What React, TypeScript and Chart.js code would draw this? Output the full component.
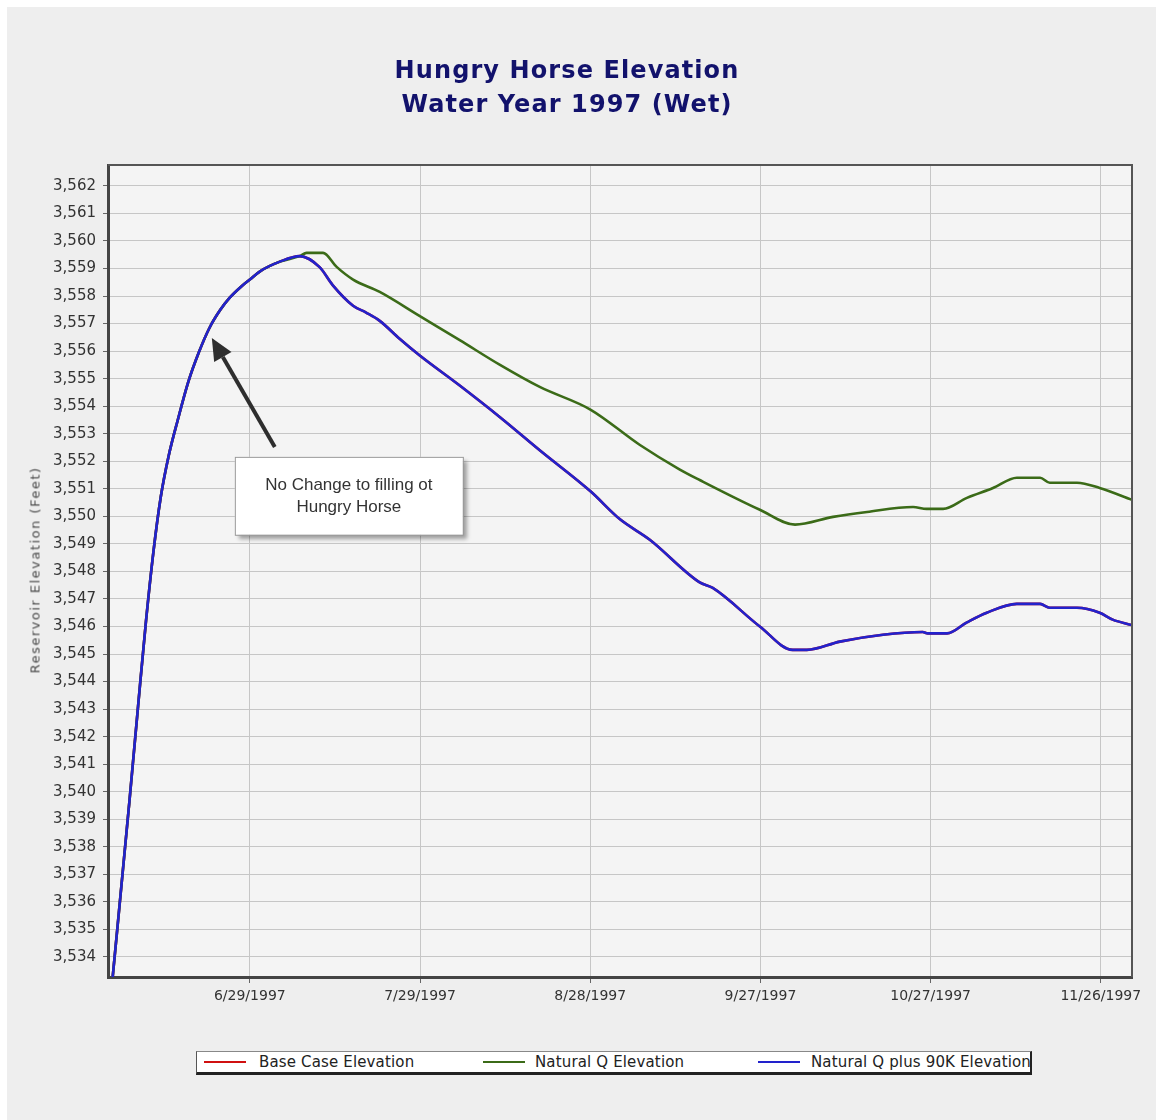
import { useEffect, useRef } from 'react';
import { Chart, registerables } from 'chart.js';

Chart.register(...registerables);

// x values are days counted from 6/29/1997
const tickDays = [0, 30, 60, 90, 120, 150];
const tickLabels = ['6/29/1997', '7/29/1997', '8/28/1997', '9/27/1997', '10/27/1997', '11/26/1997'];
const yTickValues = [
  3534, 3535, 3536, 3537, 3538, 3539, 3540, 3541, 3542, 3543, 3544, 3545, 3546, 3547,
  3548, 3549, 3550, 3551, 3552, 3553, 3554, 3555, 3556, 3557, 3558, 3559, 3560, 3561, 3562,
];

// Natural Q plus 90K Elevation (blue)
const plus90kDays = [
  -24.3, -21.2, -19.7, -18.3, -17.0, -15.7, -14.3, -12.7, -10.9, -9.0, -7.1, -5.2, -3.5, -1.5, 0, 1.8,
  5.3, 8.8, 12.3, 14.6, 18.2, 20.5, 22.9, 26.4, 29.9, 37, 44.1, 51.1, 60.1, 65.2, 70.5, 79.3, 81.6,
  89.9, 95.7, 98.2, 104, 111.6, 118.6, 119.5, 122.9, 126.4, 129.9, 135.2, 139.3, 141, 145.8, 149.8,
  152.1, 155.5,
];
const plus90kElev = [
  3533.0, 3539.7, 3543.1, 3546.2, 3548.7, 3550.7, 3552.2, 3553.5, 3554.85, 3555.95, 3556.85, 3557.5,
  3557.95, 3558.35, 3558.6, 3558.9, 3559.25, 3559.45,
  3559.05, 3558.4, 3557.65, 3557.4, 3557.1, 3556.45, 3555.85, 3554.75, 3553.6, 3552.4, 3550.9,
  3549.9, 3549.15, 3547.6, 3547.4, 3546.0, 3545.15, 3545.15, 3545.45, 3545.7, 3545.8, 3545.75,
  3545.75, 3546.15, 3546.5, 3546.82, 3546.82, 3546.68, 3546.68, 3546.5, 3546.25, 3546.05,
];

// Natural Q Elevation (green)
const naturalDays = [
  -24.3, -21.2, -19.7, -18.3, -17.0, -15.7, -14.3, -12.7, -10.9, -9.0, -7.1, -5.2, -3.5, -1.5, 0, 1.8,
  5.3, 8.8, 10.0, 12.9, 15.3, 18.2, 22.9, 29.9, 37, 44.1, 51.1, 60.1, 68.7, 75.8, 79.3, 89.9, 96.1,
  102.8, 108.8, 116.9, 119.3, 122.2, 126.4, 131, 135.2, 139.3, 141, 145.8, 149.8, 155.5,
];
const naturalElev = [
  3533.0, 3539.7, 3543.1, 3546.2, 3548.7, 3550.7, 3552.2, 3553.5, 3554.85, 3555.95, 3556.85, 3557.5,
  3557.95, 3558.35, 3558.6, 3558.9, 3559.25, 3559.45,
  3559.57, 3559.57, 3559.06, 3558.6, 3558.15, 3557.28, 3556.4, 3555.5, 3554.7, 3553.87, 3552.6,
  3551.7, 3551.32, 3550.24, 3549.7, 3549.98, 3550.16, 3550.34, 3550.27, 3550.27, 3550.67, 3551.03,
  3551.4, 3551.4, 3551.22, 3551.22, 3551.03, 3550.6,
];

// Base Case Elevation (red, hidden beneath the other lines)
const baseDays = plus90kDays;
const baseElev = plus90kElev;

const seriesNames = ['Base Case Elevation', 'Natural Q Elevation', 'Natural Q plus 90K Elevation'];
const seriesColors = ['#d01010', '#3b6b18', '#2222cc'];
const yAxisTitle = 'Reservoir Elevation (Feet)';
const titleLines = ['Hungry Horse Elevation', 'Water Year 1997 (Wet)'];

const annotationLines = ['No Change to filling ot', 'Hungry Horse'];
const annotationArrow = { tipX: -6.7, tipY: 3556.48, tailX: 4.4, tailY: 3552.52 };
const annotationBox = { x0: -2.64, x1: 37.55, y0: 3552.16, y1: 3549.33 };

const toPoints = (xs: number[], ys: number[]) => xs.map((x, i) => ({ x, y: ys[i] }));

const framePlugin = {
  id: 'framePlugin',
  beforeDraw(chart: any) {
    const { ctx, chartArea } = chart;
    ctx.save();
    ctx.fillStyle = '#f4f4f4';
    ctx.fillRect(chartArea.left, chartArea.top, chartArea.right - chartArea.left, chartArea.bottom - chartArea.top);
    ctx.restore();
  },
  afterDraw(chart: any) {
    const { ctx, chartArea, scales } = chart;
    const xs = scales.x;
    const ys = scales.y;
    ctx.save();
    ctx.strokeStyle = '#555';
    ctx.lineWidth = 2;
    ctx.beginPath();
    ctx.moveTo(chartArea.left, chartArea.top);
    ctx.lineTo(chartArea.right, chartArea.top);
    ctx.lineTo(chartArea.right, chartArea.bottom);
    ctx.stroke();

    // annotation arrow
    const tx = xs.getPixelForValue(annotationArrow.tipX);
    const ty = ys.getPixelForValue(annotationArrow.tipY);
    const sx = xs.getPixelForValue(annotationArrow.tailX);
    const sy = ys.getPixelForValue(annotationArrow.tailY);
    const ang = Math.atan2(ty - sy, tx - sx);
    const headLen = 22;
    const headHalf = 10;
    const bx = tx - headLen * Math.cos(ang);
    const by = ty - headLen * Math.sin(ang);
    ctx.strokeStyle = '#2e2e2e';
    ctx.fillStyle = '#2e2e2e';
    ctx.lineWidth = 4;
    ctx.beginPath();
    ctx.moveTo(sx, sy);
    ctx.lineTo(bx, by);
    ctx.stroke();
    ctx.beginPath();
    ctx.moveTo(tx, ty);
    ctx.lineTo(bx + headHalf * Math.sin(ang), by - headHalf * Math.cos(ang));
    ctx.lineTo(bx - headHalf * Math.sin(ang), by + headHalf * Math.cos(ang));
    ctx.closePath();
    ctx.fill();

    // annotation box
    const x0 = xs.getPixelForValue(annotationBox.x0);
    const x1 = xs.getPixelForValue(annotationBox.x1);
    const y0 = ys.getPixelForValue(annotationBox.y0);
    const y1 = ys.getPixelForValue(annotationBox.y1);
    ctx.shadowColor = 'rgba(0,0,0,0.35)';
    ctx.shadowBlur = 4;
    ctx.shadowOffsetX = 4;
    ctx.shadowOffsetY = 4;
    ctx.fillStyle = '#ffffff';
    ctx.fillRect(x0, y0, x1 - x0, y1 - y0);
    ctx.shadowColor = 'transparent';
    ctx.strokeStyle = '#9a9a9a';
    ctx.lineWidth = 1;
    ctx.strokeRect(x0 + 0.5, y0 + 0.5, x1 - x0, y1 - y0);
    ctx.fillStyle = '#333';
    ctx.font = '17px "Liberation Sans", Arial, sans-serif';
    ctx.textAlign = 'center';
    ctx.textBaseline = 'middle';
    const cx = (x0 + x1) / 2;
    const cy = (y0 + y1) / 2;
    ctx.fillText(annotationLines[0], cx, cy - 11);
    ctx.fillText(annotationLines[1], cx, cy + 11);
    ctx.restore();
  },
};

export default function App() {
  const canvasRef = useRef<HTMLCanvasElement | null>(null);

  useEffect(() => {
    if (!canvasRef.current) return;
    const lineDefaults = { borderWidth: 2.6, pointRadius: 0, cubicInterpolationMode: 'monotone' };
    const chart = new Chart(canvasRef.current, {
      type: 'line',
      data: {
        datasets: [
          {
            ...lineDefaults,
            label: seriesNames[0],
            data: toPoints(baseDays, baseElev),
            borderColor: seriesColors[0],
            order: 3,
          },
          {
            ...lineDefaults,
            label: seriesNames[1],
            data: toPoints(naturalDays, naturalElev),
            borderColor: seriesColors[1],
            order: 2,
          },
          {
            ...lineDefaults,
            label: seriesNames[2],
            data: toPoints(plus90kDays, plus90kElev),
            borderColor: seriesColors[2],
            order: 1,
          },
        ],
      },
      options: {
        animation: false,
        responsive: false,
        devicePixelRatio: 1,
        layout: { padding: { left: 24, right: 24, top: 165, bottom: 0 } },
        plugins: {
          legend: { display: false },
          title: { display: false },
          tooltip: { enabled: false },
        },
        scales: {
          x: {
            type: 'linear',
            min: -25,
            max: 155.5,
            afterBuildTicks: (s: any) => {
              s.ticks = tickDays.map((v) => ({ value: v }));
            },
            afterFit: (s: any) => {
              s.height = 143;
            },
            ticks: {
              autoSkip: false,
              maxRotation: 0,
              padding: 5,
              color: '#333',
              font: { family: '"DejaVu Sans", Verdana, sans-serif', size: 14 },
              callback: (v: any) => {
                const i = tickDays.indexOf(Number(v));
                return i >= 0 ? tickLabels[i] : '';
              },
            },
            grid: { color: '#c6c6c6', tickColor: '#666', tickLength: 6, lineWidth: 1 },
            border: { color: '#444', width: 3 },
          },
          y: {
            type: 'linear',
            min: 3533.27,
            max: 3562.76,
            afterBuildTicks: (s: any) => {
              s.ticks = yTickValues.map((v) => ({ value: v }));
            },
            afterFit: (s: any) => {
              s.width = 84;
            },
            ticks: {
              padding: 7,
              color: '#333',
              font: { family: '"DejaVu Sans", Verdana, sans-serif', size: 15 },
              callback: (v: any) => Number(v).toLocaleString('en-US'),
            },
            grid: { color: '#c6c6c6', tickColor: '#666', tickLength: 5, lineWidth: 1 },
            border: { color: '#444', width: 3 },
          },
        },
      },
      plugins: [framePlugin],
    } as any);
    return () => chart.destroy();
  }, []);

  const legendLine = (color: string) => ({
    position: 'absolute' as const,
    top: 9,
    width: 42,
    height: 2,
    background: color,
  });
  const legendText = {
    position: 'absolute' as const,
    top: 0,
    lineHeight: '20px',
    fontFamily: '"DejaVu Sans", Verdana, sans-serif',
    fontSize: 15,
    letterSpacing: '0.15px',
    color: '#222',
    whiteSpace: 'nowrap' as const,
  };

  return (
    <div style={{ position: 'absolute', left: 0, top: 0, width: 1156, height: 1120, background: '#ffffff' }}>
      <div style={{ position: 'absolute', left: 7, top: 7, right: 0, bottom: 0, background: '#eeeeee' }} />
      <canvas ref={canvasRef} width={1156} height={1120} style={{ position: 'absolute', left: 0, top: 0 }} />
      <div
        style={{
          position: 'absolute',
          left: 0,
          top: 53,
          width: 1134,
          textAlign: 'center',
          fontFamily: '"DejaVu Sans", Verdana, sans-serif',
          fontWeight: 'bold',
          fontSize: 24,
          lineHeight: '34px',
          letterSpacing: '1.1px',
          color: '#12126c',
        }}
      >
        <div>{titleLines[0]}</div>
        <div>{titleLines[1]}</div>
      </div>
      <div
        style={{
          position: 'absolute',
          left: 35,
          top: 570,
          width: 0,
          height: 0,
        }}
      >
        <div
          style={{
            position: 'absolute',
            left: 0,
            top: 0,
            transform: 'translate(-50%, -50%) rotate(-90deg)',
            whiteSpace: 'nowrap',
            fontFamily: '"DejaVu Sans", Verdana, sans-serif',
            fontSize: 13,
            letterSpacing: '1.5px',
            color: '#4a4a4a',
          }}
        >
          {yAxisTitle}
        </div>
      </div>
      <div
        style={{
          position: 'absolute',
          left: 196,
          top: 1051,
          width: 833,
          height: 20,
          background: '#ffffff',
          borderTop: '1px solid #888',
          borderLeft: '1px solid #555',
          borderRight: '2px solid #222',
          borderBottom: '3px solid #222',
          overflow: 'hidden',
        }}
      >
        <div style={{ ...legendLine(seriesColors[0]), left: 7 }} />
        <div style={{ ...legendText, left: 62 }}>{seriesNames[0]}</div>
        <div style={{ ...legendLine(seriesColors[1]), left: 286 }} />
        <div style={{ ...legendText, left: 338 }}>{seriesNames[1]}</div>
        <div style={{ ...legendLine(seriesColors[2]), left: 561 }} />
        <div style={{ ...legendText, left: 614 }}>{seriesNames[2]}</div>
      </div>
    </div>
  );
}
